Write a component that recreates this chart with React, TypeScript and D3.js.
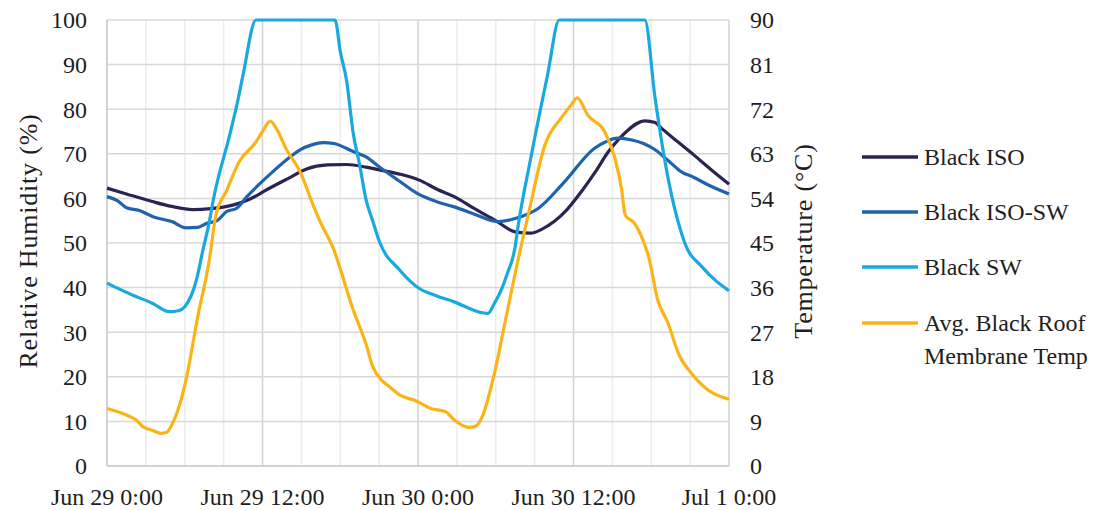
import * as d3 from 'd3';

// hours since Jun 29 0:00
const isoHours = [0, 1.5, 3.5, 5, 6.6, 8, 9.7, 11, 12.3, 14, 15.4, 17, 18.5, 20, 21, 22.5, 24.1, 25.5, 26.8, 28.3, 29.9, 31.5, 32.7, 33.5, 34.5, 35.5, 36.6, 37.7, 38.7, 39.5, 40.2, 41.5, 42.3, 42.8, 44, 45.3, 46.6, 48];
const isoRH = [62.3, 61.0, 59.3, 58.2, 57.5, 57.7, 58.5, 59.8, 61.9, 64.5, 66.6, 67.5, 67.6, 67.0, 66.4, 65.5, 64.1, 62.0, 60.4, 57.8, 55.2, 52.5, 52.2, 53.0, 54.8, 57.5, 61.5, 66.0, 70.5, 73.3, 75.3, 77.4, 77.0, 75.7, 72.8, 69.7, 66.5, 63.2];

const isoSwHours = [0, 0.8, 1.5, 2.5, 3.55, 5, 6.1, 7, 7.7, 8.5, 9.2, 10, 10.8, 12.8, 14, 14.9, 15.8, 16.7, 17.5, 19, 20, 21, 22.5, 24, 25.5, 26.8, 28.5, 30.2, 31.5, 33.3, 35.3, 37.6, 38.5, 39.4, 40.5, 41.4, 42.3, 43.3, 44.3, 45.3, 46.4, 48];
const isoSwRH = [60.4, 59.5, 57.9, 57.3, 55.9, 54.8, 53.4, 53.5, 54.4, 55.0, 57.0, 57.8, 60.4, 66.0, 69.0, 70.9, 72.0, 72.5, 72.3, 70.5, 69.3, 67.1, 64.0, 61.0, 59.2, 58.1, 56.3, 54.8, 55.5, 57.8, 63.7, 71.2, 72.7, 73.5, 73.1, 72.3, 70.9, 68.5, 66.0, 64.7, 63.0, 61.0];

const swHours = [0, 1, 2, 3.5, 4.8, 5.5, 6, 6.9, 7.4, 7.9, 8.2, 9.5, 10.1, 10.5, 11.5, 17.6, 18, 18.5, 19, 19.5, 20, 20.5, 21, 22.6, 24.1, 25.3, 26.8, 28.9, 29.4, 29.9, 30.5, 30.9, 31.5, 31.7, 32.7, 34, 34.9, 41.5, 42.3, 43.3, 44.3, 44.6, 45.9, 47, 48];
const swRH = [41.0, 39.6, 38.3, 36.5, 34.6, 34.8, 35.7, 41.7, 48.4, 54.8, 59.6, 74.6, 82, 87.7, 100, 100, 93, 86.2, 74.6, 67.5, 59.6, 55, 50.5, 43.9, 39.8, 38.3, 36.8, 34.4, 34.2, 36.5, 40, 43.2, 49.2, 53.3, 69, 87.7, 100, 100, 82.4, 64.5, 52.5, 49.9, 44.7, 41.5, 39.3];

const tempHours = [0, 1.5, 2.2, 2.8, 3.5, 4.2, 4.6, 5.0, 5.5, 6.1, 7.0, 7.9, 8.4, 9.2, 10.2, 11.5, 12.0, 12.6, 13.2, 13.8, 14.9, 15.9, 16.5, 17.4, 19, 20.0, 20.5, 21.2, 21.8, 22.6, 23.7, 25.0, 26.1, 26.8, 27.9, 28.4, 28.9, 29.9, 30.7, 31.5, 32.5, 33.8, 35.1, 35.8, 36.3, 37.1, 38.4, 39.2, 39.7, 40.0, 40.7, 41.5, 41.8, 42.5, 43.3, 44.1, 45.1, 46.4, 48];
const membraneTemp = [11.6, 10.3, 9.4, 7.9, 7.2, 6.6, 6.8, 8.3, 11.5, 17.4, 30.1, 41.6, 50.6, 55.4, 61.4, 65.4, 67.5, 69.6, 67.5, 64.1, 59.4, 52.7, 49.0, 44.3, 31.5, 24.5, 20.1, 17.3, 16.0, 14.3, 13.3, 11.6, 11.0, 9.3, 7.8, 8.0, 9.6, 18.7, 28.8, 38.9, 50.6, 64.8, 70.4, 72.8, 74.3, 70.8, 67.5, 62.1, 56.0, 50.6, 49.0, 44.6, 42.2, 33.5, 28.8, 22.7, 18.7, 15.3, 13.5];

const xTickLabels = ['Jun 29 0:00', 'Jun 29 12:00', 'Jun 30 0:00', 'Jun 30 12:00', 'Jul 1 0:00'];
const rhTicks = [0, 10, 20, 30, 40, 50, 60, 70, 80, 90, 100];
const tempTicks = [0, 9, 18, 27, 36, 45, 54, 63, 72, 81, 90];

const legendLabels = [['Black ISO'], ['Black ISO-SW'], ['Black SW'], ['Avg. Black Roof', 'Membrane Temp']];
const colors = ['#2a2452', '#1f62ad', '#19a8e0', '#fbb316'];

const width = 1102;
const height = 510;
const margin = { top: 20, right: 373, bottom: 44, left: 107 };
const FONT = 'Liberation Serif';
const TEXT = '#1e1e1e';

export default function App() {
  const x = d3.scaleLinear().domain([0, 48]).range([margin.left, width - margin.right]);
  const yL = d3.scaleLinear().domain([0, 100]).range([height - margin.bottom, margin.top]);
  const yR = d3.scaleLinear().domain([0, 90]).range([height - margin.bottom, margin.top]);

  const series = [
    { hours: isoHours, values: isoRH, y: yL },
    { hours: isoSwHours, values: isoSwRH, y: yL },
    { hours: swHours, values: swRH, y: yL },
    { hours: tempHours, values: membraneTemp, y: yR },
  ];

  const paths = series.map((s) =>
    d3
      .line<number>()
      .x((_, i) => x(s.hours[i]))
      .y((d) => s.y(d))
      .curve(d3.curveMonotoneX)(s.values)
  );

  const vHours = d3.range(3, 49, 3);
  const legendY = [157, 212, 267, 323];

  return (
    <svg
      width={width}
      height={height}
      style={{ position: 'absolute', left: 0, top: 0, background: '#fff' }}
    >
      {/* vertical grid, darker every 12 h */}
      {vHours.map((h) => (
        <line
          key={'v' + h}
          x1={x(h)}
          x2={x(h)}
          y1={yL(0)}
          y2={yL(100)}
          stroke={h % 12 === 0 ? '#d2d2d2' : '#ececec'}
          strokeWidth={1.5}
        />
      ))}
      {/* horizontal grid */}
      {rhTicks.slice(1).map((t) => (
        <line key={'h' + t} x1={x(0)} x2={x(48)} y1={yL(t)} y2={yL(t)} stroke="#d8d8d8" strokeWidth={1.5} />
      ))}
      <line x1={x(0)} x2={x(0)} y1={yL(0)} y2={yL(100)} stroke="#c4c4c4" strokeWidth={1.5} />
      <line x1={x(0)} x2={x(48)} y1={yL(0)} y2={yL(0)} stroke="#c4c4c4" strokeWidth={1.5} />

      {paths.map((d, i) => (
        <path key={'s' + i} d={d || ''} fill="none" stroke={colors[i]} strokeWidth={3.2} strokeLinejoin="round" />
      ))}

      {rhTicks.map((t) => (
        <text key={'l' + t} x={87} y={yL(t)} dy="0.35em" textAnchor="end" fontSize={24} fontFamily={FONT} fill={TEXT}>
          {t}
        </text>
      ))}
      {tempTicks.map((t) => (
        <text key={'r' + t} x={750} y={yR(t)} dy="0.35em" textAnchor="start" fontSize={24} fontFamily={FONT} fill={TEXT}>
          {t}
        </text>
      ))}
      {xTickLabels.map((label, i) => (
        <text key={label} x={x(i * 12)} y={497} dy="0.35em" textAnchor="middle" fontSize={24} fontFamily={FONT} fill={TEXT}>
          {label}
        </text>
      ))}

      <text
        transform={`translate(28,${yL(50) - 2}) rotate(-90)`}
        textAnchor="middle"
        dy="0.35em"
        fontSize={26}
        letterSpacing={0.8}
        fontFamily={FONT}
        fill={TEXT}
      >
        Relative Humidity (%)
      </text>
      <text
        transform={`translate(803,${yL(50) - 2}) rotate(-90)`}
        textAnchor="middle"
        dy="0.35em"
        fontSize={26}
        letterSpacing={0.8}
        fontFamily={FONT}
        fill={TEXT}
      >
        Temperature (°C)
      </text>

      {legendLabels.map((lines, i) => (
        <g key={'lg' + i}>
          <line x1={862} x2={918} y1={legendY[i]} y2={legendY[i]} stroke={colors[i]} strokeWidth={3.5} />
          <text x={924} y={legendY[i]} fontSize={24} fontFamily={FONT} fill={TEXT}>
            {lines.map((part, j) => (
              <tspan key={part} x={924} dy={j === 0 ? '0.35em' : '1.35em'}>
                {part}
              </tspan>
            ))}
          </text>
        </g>
      ))}
    </svg>
  );
}
